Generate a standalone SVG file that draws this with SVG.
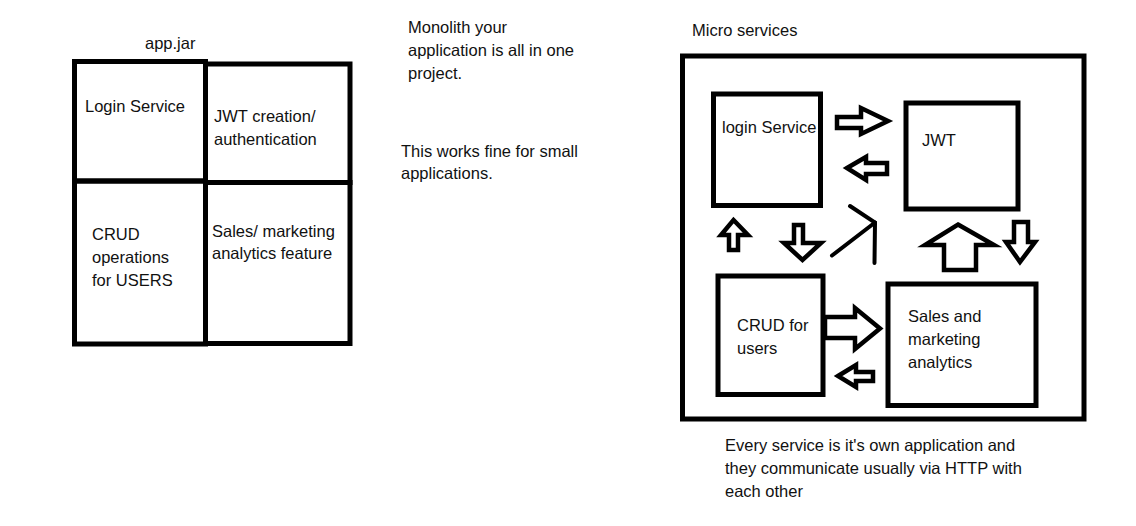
<svg xmlns="http://www.w3.org/2000/svg" width="1136" height="526" viewBox="0 0 1136 526">
<style>
text{font-family:"Liberation Sans",Arial,sans-serif;font-size:16.5px;fill:#111}
.box{fill:none;stroke:#000;stroke-width:5}
.arrow{fill:#fff;stroke:#000;stroke-width:4.5;stroke-linejoin:miter}
.line{fill:none;stroke:#000;stroke-width:4;stroke-linecap:round}
</style>
<rect width="1136" height="526" fill="#fff"/>
<text x="145" y="49">app.jar</text>
<g id="mono-login"><rect class="box" x="74.5" y="61.5" width="131" height="119.5"/><text x="85" y="112">Login Service</text></g>
<g id="mono-jwt"><rect class="box" x="205.5" y="64" width="144.5" height="118.5"/><text x="214" y="122">JWT creation/</text><text x="214" y="145">authentication</text></g>
<g id="mono-crud"><rect class="box" x="74.5" y="181" width="131" height="163"/><text x="92" y="240">CRUD</text><text x="92" y="263">operations</text><text x="92" y="286">for USERS</text></g>
<g id="mono-sales"><rect class="box" x="205.5" y="182.5" width="144.5" height="161"/><text x="212" y="237">Sales/ marketing</text><text x="212" y="259">analytics feature</text></g>
<text x="408" y="33">Monolith your</text>
<text x="408" y="56">application is all in one</text>
<text x="408" y="79">project.</text>
<text x="401" y="157">This works fine for small</text>
<text x="401" y="179">applications.</text>
<text x="692" y="36">Micro services</text>
<g id="micro-container"><rect class="box" x="682.5" y="56" width="401.5" height="363"/></g>
<g id="ms-login"><rect class="box" x="713.5" y="94" width="107" height="111.5"/><text x="722" y="133">login Service</text></g>
<g id="ms-jwt"><rect class="box" x="906" y="103" width="112" height="106"/><text x="922" y="146">JWT</text></g>
<g id="ms-crud"><rect class="box" x="718" y="276" width="105" height="118.5"/><text x="737" y="331">CRUD for</text><text x="737" y="354">users</text></g>
<g id="ms-sales"><rect class="box" x="888" y="284" width="148" height="121.5"/><text x="908" y="322">Sales and</text><text x="908" y="345">marketing</text><text x="908" y="368">analytics</text></g>
<g id="connectors">
<polygon class="arrow" points="837,117 861,117 861,108 888,121 861,134 861,128 837,128"/>
<polygon class="arrow" points="847,168 866,157 866,163 887,163 887,174 866,174 866,180"/>
<polygon class="arrow" points="733.5,220 748,235 738,235 738,250 729,250 729,235 721,235"/>
<polygon class="arrow" points="794,225 803,225 803,243 821,243 802.5,260 784,243 794,243"/>
<polyline class="line" points="832,255.5 875,222.5"/>
<polyline class="line" points="850,206 875,222.5 874.5,263"/>
<polygon class="arrow" points="958,224.5 994,245 976,245 976,270 944,270 944,245 925,245"/>
<polygon class="arrow" points="1014,222 1028,222 1028,242 1035,242 1020,262 1006,242 1014,242"/>
<polygon class="arrow" points="825,317 855,317 855,308 880,328.5 855,349 855,338 825,338"/>
<polygon class="arrow" points="838,376 856,365 856,372 873,372 873,381 856,381 856,387"/>
</g>
<text x="725" y="451">Every service is it's own application and</text>
<text x="725" y="474">they communicate usually via HTTP with</text>
<text x="725" y="497">each other</text>
</svg>
